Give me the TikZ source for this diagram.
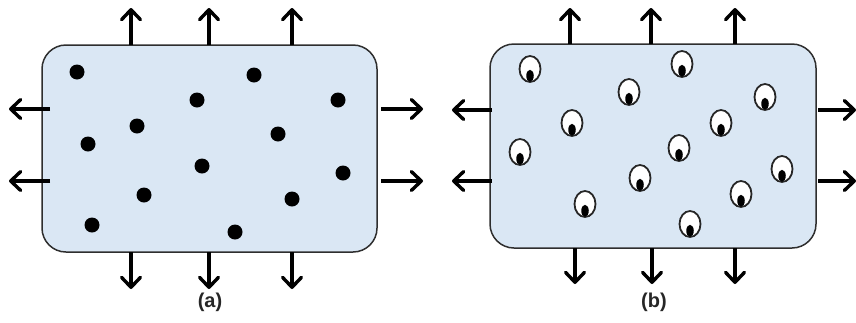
\documentclass[tikz,border=0pt]{standalone}
\usepackage{fontspec}
\setmainfont{Liberation Sans}
\usetikzlibrary{arrows.meta,shapes.geometric}
\definecolor{boxfill}{HTML}{DAE7F4}
\definecolor{boxline}{HTML}{2E2E2E}
\begin{document}
\begin{tikzpicture}[x=1pt,y=-1pt,
  panel/.style={draw=boxline,line width=1.5pt,fill=boxfill,rounded corners=24pt,inner sep=0pt},
  dot/.style={circle,fill=black,inner sep=0pt,minimum size=15pt},
  cell/.style={ellipse,draw=black!85,fill=white,line width=1.8pt,inner sep=0pt,minimum width=21pt,minimum height=26pt},
  blob/.style={ellipse,fill=black,inner sep=0pt,minimum width=7.5pt,minimum height=12pt},
  flow/.style={line width=3.4pt,-{Straight Barb[length=10pt,width=19pt,line cap=round,line join=round]}},
  lab/.style={font=\bfseries\fontsize{20}{22}\selectfont,text=black!85}]
\useasboundingbox (0,0) rectangle (856,322);

% ---------- panel (a) ----------
\node[panel,minimum width=335pt,minimum height=207pt] (boxa) at (209.5,148.5) {};
\foreach \n/\x in {1/131,2/209,3/292}{
  \coordinate (at\n s) at (\x,45);  \coordinate (at\n e) at (\x,8);
  \coordinate (ab\n s) at (\x,252); \coordinate (ab\n e) at (\x,289);
  \draw[flow] (at\n s) -- (at\n e);
  \draw[flow] (ab\n s) -- (ab\n e);
}
\foreach \n/\y in {1/109,2/181}{
  \coordinate (al\n s) at (50,\y);  \coordinate (al\n e) at (9,\y);
  \coordinate (ar\n s) at (381,\y); \coordinate (ar\n e) at (423,\y);
  \draw[flow] (al\n s) -- (al\n e);
  \draw[flow] (ar\n s) -- (ar\n e);
}
\foreach \n/\x/\y in {1/77/72,2/254/75,3/197/100,4/338/100,5/137/126,6/278/134,7/88/144,
                      8/202/166,9/343/173,10/144/195,11/292/199,12/92/225,13/235/232}{
  \node[dot] (d\n) at (\x,\y) {};
}
\node[lab] (laba) at (210,302) {(a)};

% ---------- panel (b) ----------
\node[panel,minimum width=326pt,minimum height=204pt] (boxb) at (653,146) {};
\foreach \n/\x/\xx in {1/570/575,2/651/652,3/735/735}{
  \coordinate (bt\n s) at (\x,44);  \coordinate (bt\n e) at (\x,8);
  \coordinate (bb\n s) at (\xx,248); \coordinate (bb\n e) at (\xx,284);
  \draw[flow] (bt\n s) -- (bt\n e);
  \draw[flow] (bb\n s) -- (bb\n e);
}
\foreach \n/\y in {1/110,2/181}{
  \coordinate (bl\n s) at (492,\y); \coordinate (bl\n e) at (452,\y);
  \coordinate (br\n s) at (818,\y); \coordinate (br\n e) at (856,\y);
  \draw[flow] (bl\n s) -- (bl\n e);
  \draw[flow] (br\n s) -- (br\n e);
}
\foreach \n/\x/\y in {1/530/69,2/682/64,3/629/92,4/765/97,5/572/123,6/721/123,7/520/152,
                      8/679/148,9/640/178,10/782/169,11/741/194,12/585/204,13/690/224}{
  \node[cell] (c\n) at (\x,\y) {};
  \node[blob,anchor=south,yshift=0.9pt] (k\n) at (c\n.south) {};
}
\node[lab] (labb) at (654,302) {(b)};
\end{tikzpicture}
\end{document}
